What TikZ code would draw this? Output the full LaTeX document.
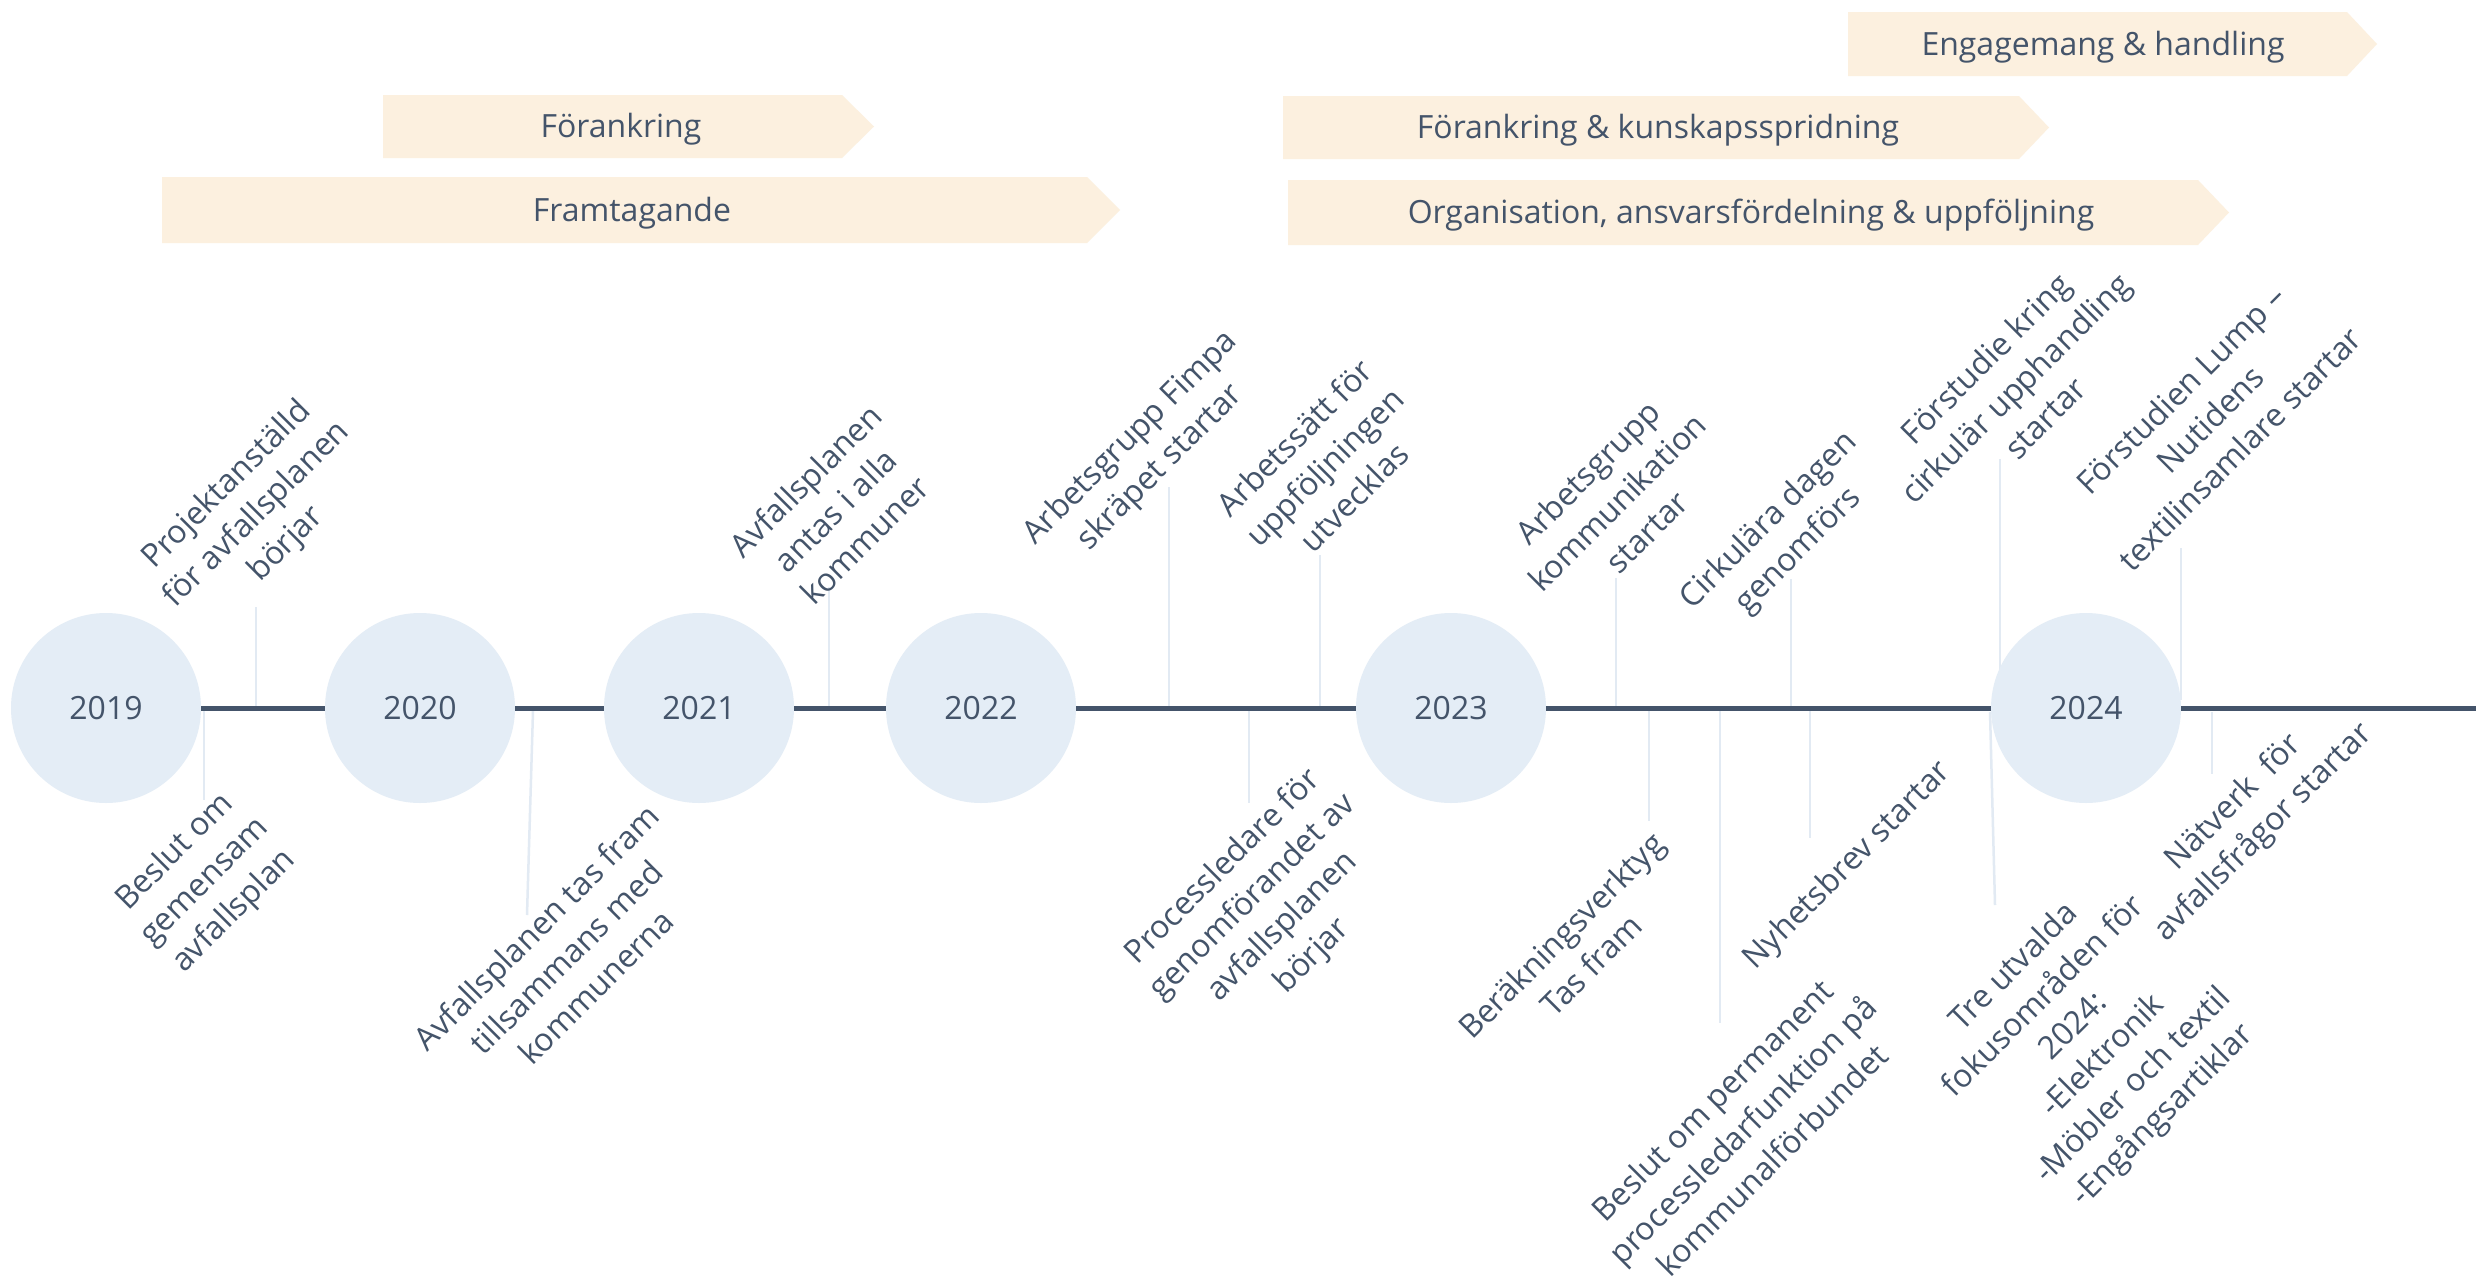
\documentclass[tikz,border=0pt]{standalone}
\usepackage{fontspec}
\setmainfont{Open Sans}
\definecolor{txt}{HTML}{44546A}
\definecolor{circ}{HTML}{E4EDF6}
\definecolor{band}{HTML}{FCF0DF}
\definecolor{conn}{HTML}{E2EAF3}
\begin{document}
\begin{tikzpicture}[x=1pt,y=-1pt,
  lbl/.style={rotate=45,align=center,inner sep=0pt,text=txt,font=\fontsize{32}{42}\selectfont},
  yearc/.style={circle,fill=circ,minimum size=190pt,inner sep=0pt,text=txt,font=\fontsize{32}{42}\selectfont},
  bandtxt/.style={inner sep=0pt,text=txt,font=\fontsize{32}{42}\selectfont},
  tline/.style={draw=txt,line width=5pt},
  cline/.style={draw=conn,line width=2.5pt},
  bandshape/.style={fill=band,draw=none}]
\fill[white] (0,0) rectangle (2476,1285);
\useasboundingbox (0,0) rectangle (2476,1285);

% banners
\fill[bandshape] (1848,12) -- (2347,12) -- (2377,44) -- (2347,76) -- (1848,76) -- cycle;
\node[bandtxt] (b1) at (2103,47) {Engagemang \& handling};
\fill[bandshape] (383,95) -- (842,95) -- (874,126.5) -- (842,158) -- (383,158) -- cycle;
\node[bandtxt] (b2) at (621,129.5) {Förankring};
\fill[bandshape] (162,177) -- (1087,177) -- (1120,210) -- (1087,243) -- (162,243) -- cycle;
\node[bandtxt] (b3) at (632,213) {Framtagande};
\fill[bandshape] (1283,96) -- (2019,96) -- (2049,127.5) -- (2019,159) -- (1283,159) -- cycle;
\node[bandtxt] (b4) at (1658,130.5) {Förankring \& kunskapsspridning};
\fill[bandshape] (1288,180) -- (2198,180) -- (2229,212.5) -- (2198,245) -- (1288,245) -- cycle;
\node[bandtxt] (b5) at (1751,215.5) {Organisation, ansvarsfördelning \& uppföljning};

% connector coordinates
\coordinate (c1a) at (256,607);  \coordinate (c1b) at (256,706);
\coordinate (c4a) at (829,587);  \coordinate (c4b) at (829,706);
\coordinate (c5a) at (1169,487); \coordinate (c5b) at (1169,706);
\coordinate (c6a) at (1320,555); \coordinate (c6b) at (1320,706);
\coordinate (c8a) at (1616,578); \coordinate (c8b) at (1616,706);
\coordinate (c9a) at (1791,579); \coordinate (c9b) at (1791,706);
\coordinate (c10a) at (2000,459); \coordinate (c10b) at (2000,706);
\coordinate (c11a) at (2181,548); \coordinate (c11b) at (2181,700);
\coordinate (c2a) at (204,710);  \coordinate (c2b) at (204,800);
\coordinate (c3a) at (533,711);  \coordinate (c3b) at (527,915);
\coordinate (c7a) at (1249,711); \coordinate (c7b) at (1249,803);
\coordinate (c12a) at (1649,711); \coordinate (c12b) at (1649,821);
\coordinate (c13a) at (1720,711); \coordinate (c13b) at (1720,1023);
\coordinate (c14a) at (1810,711); \coordinate (c14b) at (1810,838);
\coordinate (c15a) at (1990,712); \coordinate (c15b) at (1995,905);
\coordinate (c16a) at (2212,712); \coordinate (c16b) at (2212,774);

\foreach \c in {1,4,5,6,8,9,10,11,2,3,7,12,13,14,15,16}
  \draw[cline] (c\c a) -- (c\c b);

% timeline
\coordinate (tend) at (2476,708);
\node[yearc] (y2019) at (106,708) {2019};
\node[yearc] (y2020) at (420,708) {2020};
\node[yearc] (y2021) at (699,708) {2021};
\node[yearc] (y2022) at (981,708) {2022};
\node[yearc] (y2023) at (1451,708) {2023};
\node[yearc] (y2024) at (2086,708) {2024};
\draw[tline] (y2019.east) -- (y2020.west);
\draw[tline] (y2020.east) -- (y2021.west);
\draw[tline] (y2021.east) -- (y2022.west);
\draw[tline] (y2022.east) -- (y2023.west);
\draw[tline] (y2023.east) -- (y2024.west);
\draw[tline] (y2024.east) -- (tend);

% labels above
\node[lbl] (l1) at (257,515) {Projektanställd\\för avfallsplanen\\börjar};
\node[lbl] (l4) at (835,510) {Avfallsplanen\\antas i alla\\kommuner};
\node[lbl] (l5) at (1146,453) {Arbetsgrupp Fimpa\\skräpet startar};
\node[lbl] (l6) at (1324,467) {Arbetssätt för\\uppföljningen\\utvecklas};
\node[lbl] (l8) at (1617,502) {Arbetsgrupp\\kommunikation\\startar};
\node[lbl] (l9) at (1784,536) {Cirkulära dagen\\genomförs};
\node[lbl] (l10) at (2015,388) {Förstudie kring\\cirkulär upphandling\\startar};
\node[lbl] (l11) at (2210,419) {Förstudien Lump –\\Nutidens\\textilinsamlare startar};
% labels below
\node[lbl] (l2) at (205,882) {Beslut om\\gemensam\\avfallsplan};
\node[lbl] (l3) at (566,957) {Avfallsplanen tas fram\\tillsammans med\\kommunerna};
\node[lbl] (l7) at (1268,912) {Processledare för\\genomförandet av\\avfallsplanen\\börjar};
\node[lbl] (l12) at (1576,950) {Beräkningsverktyg\\Tas fram};
\node[lbl] (l13) at (1742,1130) {Beslut om permanent\\processledarfunktion på\\kommunalförbundet};
\node[lbl] (l14) at (1848,866) {Nyhetsbrev startar};
\node[lbl] (l15) at (2089,1042) {Tre utvalda\\fokusområden för\\2024:\\-Elektronik\\-Möbler och textil\\-Engångsartiklar};
\node[lbl] (l16) at (2249,818) {Nätverk\ \ för\\avfallsfrågor startar};
\end{tikzpicture}
\end{document}
